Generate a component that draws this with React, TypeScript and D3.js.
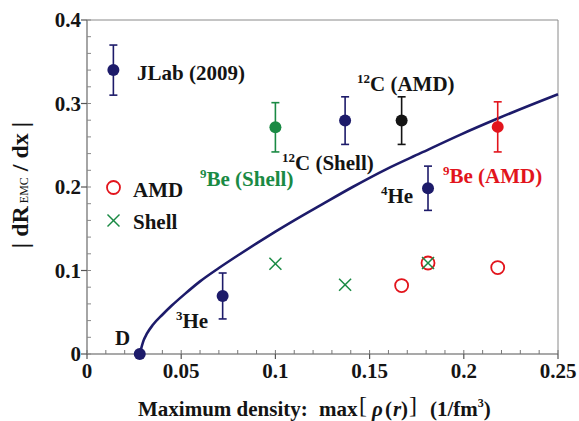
import React from "react";
import * as d3 from "d3";

// ---- data ----
const xTicks = [0, 0.05, 0.1, 0.15, 0.2, 0.25];
const xTickLabels = ["0", "0.05", "0.1", "0.15", "0.2", "0.25"];
const yTicks = [0, 0.1, 0.2, 0.3, 0.4];
const yTickLabels = ["0", "0.1", "0.2", "0.3", "0.4"];

// fitted curve
const curveX = [0.028, 0.03, 0.0317, 0.035, 0.04, 0.045, 0.052, 0.06, 0.07, 0.08, 0.09, 0.1, 0.11, 0.125, 0.141, 0.159, 0.177, 0.198, 0.218, 0.25];
const curveY = [0, 0.016, 0.024, 0.035, 0.047, 0.058, 0.072, 0.087, 0.103, 0.118, 0.1325, 0.1465, 0.16, 0.1795, 0.2, 0.2215, 0.2405, 0.2625, 0.282, 0.311];

// experimental points (JLab 2009): JLab legend marker, D, 3He, 4He, 12C(Shell)
const expX = [0.014, 0.028, 0.072, 0.181, 0.137];
const expY = [0.34, 0, 0.0695, 0.1985, 0.2795];
const expErr = [0.03, 0, 0.0275, 0.0265, 0.0285];

// colored points: 9Be (Shell), 12C (AMD), 9Be (AMD)
const colX = [0.1, 0.167, 0.218];
const colY = [0.2715, 0.2795, 0.272];
const colErr = [0.0295, 0.0285, 0.03];

// AMD (open circles) and Shell (crosses)
const amdX = [0.167, 0.181, 0.218];
const amdY = [0.082, 0.109, 0.1035];
const shellX = [0.1, 0.137, 0.181];
const shellY = [0.108, 0.083, 0.109];

// ---- styles ----
const NAVY = "#1d1b6a";
const GREEN = "#1a8a44";
const RED = "#e2141c";
const BLACK = "#141414";
const colColors = [GREEN, BLACK, RED];
const FONT = "'Liberation Serif', 'Times New Roman', serif";

export default function App() {
  const W = 579, H = 421;
  const x = d3.scaleLinear().domain([0, 0.25]).range([87, 558]);
  const y = d3.scaleLinear().domain([0, 0.4]).range([354, 20]);

  const line = d3
    .line<number>()
    .x((_, i) => x(curveX[i]))
    .y((_, i) => y(curveY[i]))
    .curve(d3.curveMonotoneX);
  const curvePath = line(curveX) || "";

  const xMinor = d3.range(0, 0.2501, 0.01);
  const yMinor = d3.range(0, 0.4001, 0.02);

  const errBar = (cx: number, cy: number, e: number, color: string, key: string) => {
    if (e <= 0) return null;
    const top = y(cy + e), bot = y(cy - e), px = x(cx);
    return (
      <g key={key} stroke={color} strokeWidth={1.6}>
        <line x1={px} x2={px} y1={top} y2={bot} />
        <line x1={px - 4} x2={px + 4} y1={top} y2={top} />
        <line x1={px - 4} x2={px + 4} y1={bot} y2={bot} />
      </g>
    );
  };

  const cross = (px: number, py: number, color: string, key: string, s = 6) => (
    <g key={key} stroke={color} strokeWidth={1.5}>
      <line x1={px - s} x2={px + s} y1={py - s} y2={py + s} />
      <line x1={px - s} x2={px + s} y1={py + s} y2={py - s} />
    </g>
  );

  const lab = { fontFamily: FONT, fontWeight: "bold" as const, fontSize: 21 };

  return (
    <svg
      width={W}
      height={H}
      style={{ position: "absolute", left: 0, top: 0, background: "#fff" }}
    >
      {/* frame */}
      <line x1={87} x2={558} y1={20} y2={20} stroke="#8a8a8a" strokeWidth={1} />
      <line x1={558} x2={558} y1={20} y2={354} stroke="#8a8a8a" strokeWidth={1} />
      <line x1={87} x2={87} y1={20} y2={354} stroke="#6a6a6a" strokeWidth={1.2} />
      <line x1={87} x2={558} y1={354} y2={354} stroke="#555" strokeWidth={1.2} />

      {/* minor ticks */}
      {xMinor.map((v, i) => (
        <line key={"xm" + i} x1={x(v)} x2={x(v)} y1={354} y2={350} stroke="#777" strokeWidth={1} />
      ))}
      {yMinor.map((v, i) => (
        <line key={"ym" + i} x1={87} x2={91} y1={y(v)} y2={y(v)} stroke="#888" strokeWidth={1} />
      ))}
      {/* major ticks */}
      {xTicks.map((v, i) => (
        <line key={"xt" + i} x1={x(v)} x2={x(v)} y1={354} y2={359} stroke="#555" strokeWidth={1.2} />
      ))}
      {yTicks.map((v, i) => (
        <line key={"yt" + i} x1={81} x2={87} y1={y(v)} y2={y(v)} stroke="#555" strokeWidth={1.2} />
      ))}

      {/* tick labels */}
      {xTicks.map((v, i) => (
        <text key={"xl" + i} x={x(v)} y={378} textAnchor="middle" {...lab} fill={BLACK}>
          {xTickLabels[i]}
        </text>
      ))}
      {yTicks.map((v, i) => (
        <text key={"yl" + i} x={81} y={y(v) + 7} textAnchor="end" {...lab} fill={BLACK}>
          {yTickLabels[i]}
        </text>
      ))}

      {/* axis titles */}
      <text
        transform="translate(28,185) rotate(-90)"
        textAnchor="middle"
        fontFamily={FONT}
        fontWeight="bold"
        fontSize={24}
        fill={BLACK}
        style={{ whiteSpace: "pre" }}
      >
        <tspan>{"| dR"}</tspan>
        <tspan fontSize={12} fontWeight="normal">{" EMC"}</tspan>
        <tspan>{" / dx |"}</tspan>
      </text>

      <g fontFamily={FONT} fontWeight="bold" fontSize={21} fill={BLACK}>
        <text x={138} y={416}>Maximum density:</text>
        <text x={319} y={416}>max</text>
        <text x={359} y={413} fontWeight="normal" fontSize={24}>[</text>
        <text x={372} y={416} fontStyle="italic">ρ</text>
        <text x={385} y={416}>(</text>
        <text x={393} y={416} fontStyle="italic">r</text>
        <text x={401} y={416}>)</text>
        <text x={409} y={413} fontWeight="normal" fontSize={24}>]</text>
        <text x={430} y={416}>
          (1/fm
          <tspan fontSize={12} dy={-9}>3</tspan>
          <tspan dy={9}>)</tspan>
        </text>
      </g>

      {/* curve */}
      <path d={curvePath} fill="none" stroke={NAVY} strokeWidth={2.6} />

      {/* AMD circles & shell crosses */}
      {amdX.map((v, i) => (
        <circle key={"amd" + i} cx={x(v)} cy={y(amdY[i])} r={6.5} fill="none" stroke={RED} strokeWidth={1.8} />
      ))}
      {shellX.map((v, i) => cross(x(v), y(shellY[i]), GREEN, "sh" + i))}

      {/* error bars & points */}
      {expX.map((v, i) => errBar(v, expY[i], expErr[i], NAVY, "ee" + i))}
      {colX.map((v, i) => errBar(v, colY[i], colErr[i], colColors[i], "ce" + i))}
      {expX.map((v, i) => (
        <circle key={"ep" + i} cx={x(v)} cy={y(expY[i])} r={6} fill={NAVY} />
      ))}
      {colX.map((v, i) => (
        <circle key={"cp" + i} cx={x(v)} cy={y(colY[i])} r={6} fill={colColors[i]} />
      ))}

      {/* legend */}
      <circle cx={113.5} cy={187.5} r={6.5} fill="none" stroke={RED} strokeWidth={1.8} />
      <text x={133} y={196.5} {...lab} fill={BLACK}>AMD</text>
      {cross(113.5, 220.5, GREEN, "lgx")}
      <text x={133} y={229} {...lab} fill={BLACK}>Shell</text>

      {/* annotations */}
      <g {...lab}>
        <text x={137} y={80} fill={BLACK}>JLab (2009)</text>
        <text x={357} y={90.5} fill={BLACK}>
          <tspan fontSize={13} dy={-8}>12</tspan>
          <tspan dy={8}>C (AMD)</tspan>
        </text>
        <text x={282} y={170} fill={BLACK}>
          <tspan fontSize={13} dy={-8}>12</tspan>
          <tspan dy={8}>C (Shell)</tspan>
        </text>
        <text x={200} y={186} fill={GREEN}>
          <tspan fontSize={13} dy={-8}>9</tspan>
          <tspan dy={8}>Be (Shell)</tspan>
        </text>
        <text x={443} y={183} fill={RED}>
          <tspan fontSize={13} dy={-8}>9</tspan>
          <tspan dy={8}>Be (AMD)</tspan>
        </text>
        <text x={381} y={203} fill={BLACK}>
          <tspan fontSize={13} dy={-8}>4</tspan>
          <tspan dy={8}>He</tspan>
        </text>
        <text x={176} y={327.5} fill={BLACK}>
          <tspan fontSize={13} dy={-8}>3</tspan>
          <tspan dy={8}>He</tspan>
        </text>
        <text x={115} y={345} fill={BLACK}>D</text>
      </g>
    </svg>
  );
}
